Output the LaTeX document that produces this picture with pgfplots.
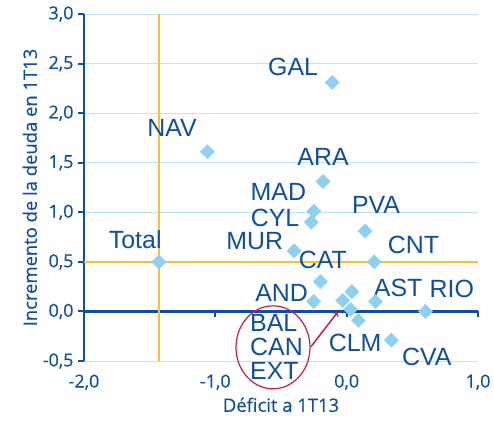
\documentclass[border=0pt]{standalone}
\usepackage{pgfplots}
\pgfplotsset{compat=1.18}
\usepackage{fontspec}
\setmainfont{Open Sans}[FakeBold=0.4]
\newfontfamily\lblfont{Liberation Sans}

\definecolor{textblue}{RGB}{16,78,160}
\definecolor{ptblue}{RGB}{142,208,240}
\definecolor{gridblue}{RGB}{190,228,245}
\definecolor{avgorange}{RGB}{255,190,50}
\definecolor{circred}{RGB}{205,25,90}

\tikzset{lbl/.style={font=\lblfont\fontsize{25}{25}\selectfont, text=textblue, inner sep=0pt}}

\begin{document}
\begin{tikzpicture}
\begin{axis}[
  scale only axis, width=394bp, height=347bp,
  xmin=-2, xmax=1, ymin=-0.5, ymax=3,
  axis y line*=left, axis x line*=bottom,
  x axis line style={draw=none},
  y axis line style={draw=textblue, line width=2.5bp},
  xtick={-2,-1,0,1}, ytick={-0.5,0,0.5,1,1.5,2,2.5,3},
  xtick style={draw=none},
  ytick style={draw=textblue, line width=2bp},
  tick align=outside, major tick length=6bp,
  ymajorgrids, grid style={gridblue, line width=1bp},
  ticklabel style={font=\fontsize{18}{18}\selectfont, text=textblue},
  xticklabel style={yshift=-4bp},
  yticklabel style={xshift=-1bp},
  xlabel={Déficit a 1T13}, ylabel={Incremento de la deuda en 1T13},
  label style={font=\fontsize{18.5}{18.5}\selectfont, text=textblue},
  xlabel style={yshift=-1bp},
  ylabel style={yshift=-1bp},
  /pgf/number format/use comma, /pgf/number format/fixed,
  /pgf/number format/fixed zerofill, /pgf/number format/precision=1,
  /pgf/number format/assume math mode=true,
  clip=false,
]
% eje x en el cero
\draw[textblue, line width=2.5bp] (axis cs:-2,0) -- (axis cs:1,0);
\draw[textblue, line width=2bp] (axis cs:-1,0) -- ([yshift=-6bp]axis cs:-1,0);
\draw[textblue, line width=2bp] (axis cs:0,0) -- ([yshift=-6bp]axis cs:0,0);
\draw[textblue, line width=2bp] (axis cs:1,0) -- ([yshift=-6bp]axis cs:1,0);

% medias
\addplot[avgorange, line width=2.5bp] coordinates {(-1.43,-0.5) (-1.43,3)};
\addplot[avgorange, line width=2.5bp] coordinates {(-2,0.5) (1,0.5)};

% CCAA
\addplot[only marks, mark=square*, mark size=5bp,
  mark options={rotate=45, fill=ptblue, draw=ptblue}] coordinates {
(-0.11,2.31) (-1.06,1.61) (-0.18,1.31) (-0.25,1.01) (-0.27,0.90)
(0.14,0.81) (-0.40,0.61) (0.21,0.50) (-0.20,0.30) (0.04,0.20)
(0.22,0.10) (0.60,0.00) (-0.25,0.10) (-0.03,0.11) (0.03,0.02)
(0.09,-0.09) (0.34,-0.29) (-1.43,0.50)
};

\node[lbl] at (axis cs:-0.408,2.47) {GAL};
\node[lbl] at (axis cs:-1.33,1.855) {NAV};
\node[lbl] at (axis cs:-0.18,1.56) {ARA};
\node[lbl] at (axis cs:-0.52,1.21) {MAD};
\node[lbl] at (axis cs:-0.545,0.946) {CYL};
\node[lbl] at (axis cs:0.224,1.078) {PVA};
\node[lbl] at (axis cs:-0.70,0.707) {MUR};
\node[lbl] at (axis cs:0.508,0.674) {CNT};
\node[lbl] at (axis cs:-0.182,0.522) {CAT};
\node[lbl] at (axis cs:0.392,0.236) {AST};
\node[lbl] at (axis cs:0.80,0.226) {RIO};
\node[lbl] at (axis cs:-0.495,0.186) {AND};
\node[lbl, anchor=west] at (axis cs:-0.736,-0.117) {BAL};
\node[lbl, anchor=west] at (axis cs:-0.736,-0.354) {CAN};
\node[lbl, anchor=west] at (axis cs:-0.736,-0.596) {EXT};
\node[lbl] at (axis cs:0.064,-0.32) {CLM};
\node[lbl] at (axis cs:0.61,-0.46) {CVA};
\node[lbl] at (axis cs:-1.61,0.72) {Total};

\draw[circred, line width=1.2bp] (axis cs:-0.561,-0.362) ellipse [x radius=37bp, y radius=41.5bp];
\draw[circred, line width=1.5bp, ->] (axis cs:-0.271,-0.354) -- (axis cs:-0.068,-0.006);
\end{axis}
\path (current axis.south west) ++(-84bp,-76bp) rectangle ++(494bp,437bp);
\end{tikzpicture}
\end{document}
